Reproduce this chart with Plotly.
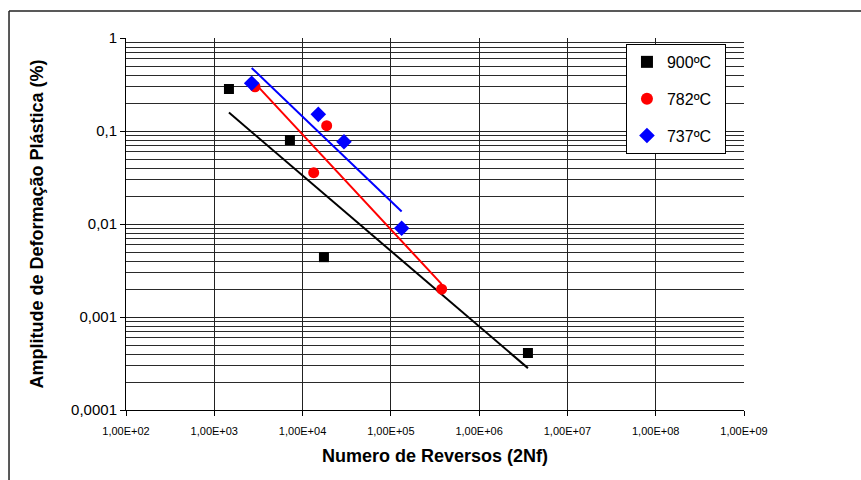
import numpy as np
import plotly.graph_objects as go

# Plastic strain amplitude vs. number of reversals, three test temperatures
reversals_900 = [1466, 7190, 17460, 3.57e6]
strain_900 = [0.283, 0.080, 0.0044, 0.00041]

reversals_782 = [2893, 18750, 13370, 3.76e5]
strain_782 = [0.299, 0.114, 0.0356, 0.00199]

reversals_737 = [2652, 15070, 29440, 1.325e5]
strain_737 = [0.326, 0.151, 0.0767, 0.0090]

series = [
    ("900ºC", reversals_900, strain_900, "black", "square", 10),
    ("782ºC", reversals_782, strain_782, "#ff0000", "circle", 11),
    ("737ºC", reversals_737, strain_737, "#0000ff", "diamond", 12),
]

x_tick_vals = [1e2, 1e3, 1e4, 1e5, 1e6, 1e7, 1e8, 1e9]
x_tick_text = ["1,00E+02", "1,00E+03", "1,00E+04", "1,00E+05",
               "1,00E+06", "1,00E+07", "1,00E+08", "1,00E+09"]
y_tick_vals = [1e-4, 1e-3, 1e-2, 1e-1, 1]
y_tick_text = ["0,0001", "0,001", "0,01", "0,1", "1"]

FONT = "Liberation Sans, Arial, sans-serif"
PAD = "\u00a0\u00a0"  # keeps the legend box a little wider than its text

fig = go.Figure()

# power-law trendlines (least squares in log-log space over each series' range)
for name, xs, ys, color, symbol, size in series:
    lx, ly = np.log10(xs), np.log10(ys)
    slope, icpt = np.polyfit(lx, ly, 1)
    xfit = np.logspace(lx.min(), lx.max(), 50)
    yfit = 10 ** (icpt + slope * np.log10(xfit))
    fig.add_trace(go.Scatter(x=xfit, y=yfit, mode="lines",
                             line=dict(color=color, width=2),
                             showlegend=False, hoverinfo="skip"))

for i, (name, xs, ys, color, symbol, size) in enumerate(series):
    fig.add_trace(go.Scatter(x=xs, y=ys, mode="markers", name=name + PAD,
                             legendgroup=f"g{i}",
                             marker=dict(color=color, symbol=symbol, size=size,
                                         line=dict(width=0))))

minor_y = [m * 10.0 ** e for e in range(-4, 0) for m in range(2, 10)]

fig.update_layout(
    width=861, height=480,
    margin=dict(l=126, r=117, t=38, b=70),
    paper_bgcolor="white", plot_bgcolor="white",
    font=dict(family=FONT, color="black"),
    showlegend=True,
    legend=dict(x=0.809, y=0.984, xanchor="left", yanchor="top",
                bgcolor="white", bordercolor="black", borderwidth=1,
                font=dict(size=16, family=FONT),
                tracegroupgap=13, itemsizing="constant"),
    xaxis=dict(type="log", range=[2, 9],
               tickmode="array", tickvals=x_tick_vals, ticktext=x_tick_text,
               tickfont=dict(size=11), ticks="outside", ticklen=5,
               tickcolor="black", ticklabelstandoff=6,
               showline=True, linecolor="black", linewidth=1,
               showgrid=True, gridcolor="#222222", gridwidth=1,
               zeroline=False,
               title=dict(text="<b>Numero de Reversos (2Nf)</b>",
                          font=dict(size=18), standoff=13)),
    yaxis=dict(type="log", range=[-4, 0],
               tickmode="array", tickvals=y_tick_vals, ticktext=y_tick_text,
               tickfont=dict(size=15), ticks="outside", ticklen=5,
               tickcolor="black",
               showline=True, linecolor="black", linewidth=1,
               showgrid=True, gridcolor="#222222", gridwidth=1,
               minor=dict(tickmode="array", tickvals=minor_y, showgrid=True,
                          gridcolor="#2a2a2a", gridwidth=1, ticks=""),
               zeroline=False,
               title=dict(text="<b>Amplitude de Deformação Plástica (%)</b>",
                          font=dict(size=18), standoff=22)),
)

# outer chart frame: only its left and top edges fall inside the page
frame = dict(type="line", xref="paper", yref="paper",
             line=dict(color="#222222", width=1.5), layer="below")
fig.add_shape(x0=-0.1893, y0=1.0726, x1=1.3, y1=1.0726, **frame)
fig.add_shape(x0=-0.1893, y0=1.0726, x1=-0.1893, y1=-0.4, **frame)

fig.write_html("out.html")
